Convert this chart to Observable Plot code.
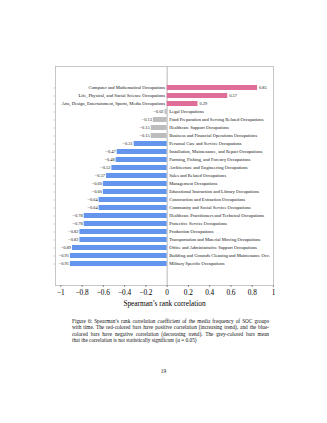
<!DOCTYPE html>
<html><head><meta charset="utf-8">
<script src="https://cdn.jsdelivr.net/npm/d3@7"></script>
<script src="https://cdn.jsdelivr.net/npm/@observablehq/plot@0.6"></script>
<style>
html,body{margin:0;padding:0;background:#fff;width:327px;height:423px;overflow:hidden;font-family:"Liberation Serif",serif;}
#chart{position:absolute;left:0;top:0;}
#caption{position:absolute;left:72px;top:318px;width:197px;font-size:5.3px;line-height:6.3px;color:#111;}
#caption div{text-align:justify;text-align-last:justify;white-space:nowrap;}
#caption div.last{text-align-last:left;}
#page{position:absolute;left:0;width:327px;top:368px;text-align:center;font-size:5.3px;color:#111;}
</style></head>
<body>
<div id="chart"></div>
<div id="caption">
<div>Figure 6: Spearman’s rank correlation coefficient of the media frequency of SOC groups</div>
<div>with time. The red-colored bars have positive correlation (increasing trend), and the blue-</div>
<div>colored bars have negative correlation (decreasing trend). The grey-colored bars mean</div>
<div class="last">that the correlation is not statistically significant (α = 0.05)</div>
</div>
<div id="page">19</div>
<script>
const categories = [
  "Computer and Mathematical Occupations",
  "Life, Physical, and Social Science Occupations",
  "Arts, Design, Entertainment, Sports, Media Occupations",
  "Legal Occupations",
  "Food Preparation and Serving Related Occupations",
  "Healthcare Support Occupations",
  "Business and Financial Operations Occupations",
  "Personal Care and Service Occupations",
  "Installation, Maintenance, and Repair Occupations",
  "Farming, Fishing, and Forestry Occupations",
  "Architecture and Engineering Occupations",
  "Sales and Related Occupations",
  "Management Occupations",
  "Educational Instruction and Library Occupations",
  "Construction and Extraction Occupations",
  "Community and Social Service Occupations",
  "Healthcare Practitioners and Technical Occupations",
  "Protective Service Occupations",
  "Production Occupations",
  "Transportation and Material Moving Occupations",
  "Office and Administrative Support Occupations",
  "Building and Grounds Cleaning and Maintenance Occ.",
  "Military Specific Occupations"
];
const values = [0.85, 0.57, 0.29, -0.02, -0.13, -0.15, -0.15, -0.31, -0.47, -0.48, -0.52, -0.57, -0.60, -0.60, -0.64, -0.64, -0.78, -0.78, -0.82, -0.82, -0.89, -0.91, -0.91];
const significance = ["pos","pos","pos","ns","ns","ns","ns","neg","neg","neg","neg","neg","neg","neg","neg","neg","neg","neg","neg","neg","neg","neg","neg"];
const xTicks = [-1, -0.8, -0.6, -0.4, -0.2, 0, 0.2, 0.4, 0.6, 0.8, 1];
const colors = {pos: "#df6f98", neg: "#6495ed", ns: "#bdbdbd"};

const data = categories.map((c, i) => ({name: c, value: values[i], sig: significance[i]}));
const posData = data.filter(d => d.value >= 0);
const negData = data.filter(d => d.value < 0);
const fmt = v => (v < 0 ? "\u2212" : "") + Math.abs(v).toFixed(2);
const tickFmt = v => (v < 0 ? "\u2212" : "") + String(Math.abs(Math.round(v * 10) / 10));

const chart = Plot.plot({
  width: 327,
  height: 310,
  marginLeft: 55,
  marginRight: 54,
  marginTop: 66,
  marginBottom: 25,
  style: {fontFamily: "Liberation Serif, serif", background: "#fff", color: "#000"},
  x: {domain: [-1.05, 1]},
  y: {domain: categories, paddingInner: 0.4, paddingOuter: 1.25, label: null},
  marks: [
    Plot.frame({stroke: "#b8b8b8", strokeWidth: 0.8}),
    Plot.axisY({tickSize: 1.5, tickFormat: () => "", stroke: "#c4c4c4", label: null}),
    Plot.axisX({ticks: xTicks, tickSize: 2, tickPadding: 2, tickFormat: tickFmt, fontSize: 7.3, stroke: "#888", fill: "#000",
      label: "Spearman’s rank correlation", labelAnchor: "center", labelArrow: "none", labelOffset: 20}),
    Plot.ruleX([0], {stroke: "#c4c4c4", strokeWidth: 1.2}),
    Plot.barX(data, {x: "value", y: "name", fill: d => colors[d.sig]}),
    Plot.text(posData, {x: 0, y: "name", text: "name", dx: -2, textAnchor: "end", fontSize: 4.6, fill: "#111"}),
    Plot.text(negData, {x: 0, y: "name", text: "name", dx: 2, textAnchor: "start", fontSize: 4.6, fill: "#111"}),
    Plot.text(posData, {x: "value", y: "name", text: d => fmt(d.value), dx: 1.5, textAnchor: "start", fontSize: 4.4, fill: "#111"}),
    Plot.text(negData, {x: "value", y: "name", text: d => fmt(d.value), dx: -1.5, textAnchor: "end", fontSize: 4.4, fill: "#111"})
  ]
});
document.getElementById("chart").appendChild(chart);
</script>
</body></html>
